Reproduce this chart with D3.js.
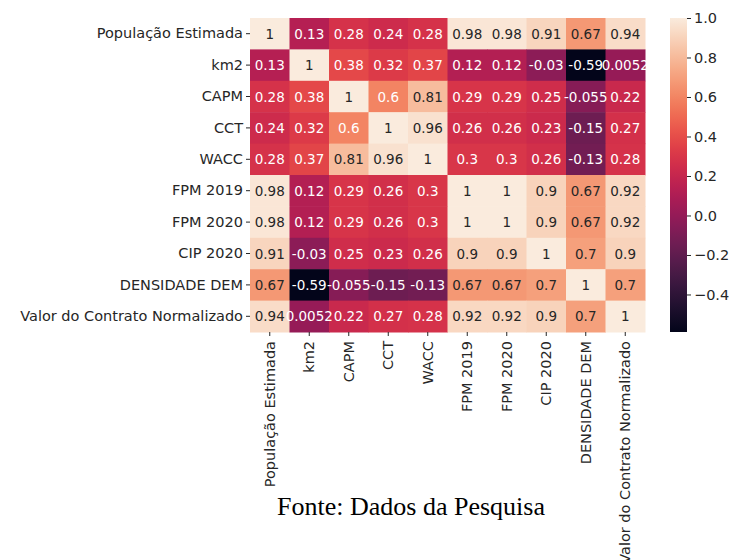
<!doctype html>
<html>
<head>
<meta charset="utf-8" />
<title>Correlação</title>
<script src="https://cdn.jsdelivr.net/npm/d3@7"></script>
<style>
  html, body { margin: 0; padding: 0; background: #fff; }
  svg { display: block; }
</style>
</head>
<body>
<script>
// variables (rows and columns share the same order)
const labels = ["População Estimada", "km2", "CAPM", "CCT", "WACC", "FPM 2019", "FPM 2020", "CIP 2020", "DENSIDADE DEM", "Valor do Contrato Normalizado"];

// correlation matrix, one array per row
const rowPop   = [1, 0.13, 0.28, 0.24, 0.28, 0.98, 0.98, 0.91, 0.67, 0.94];
const rowKm2   = [0.13, 1, 0.38, 0.32, 0.37, 0.12, 0.12, -0.03, -0.59, 0.0052];
const rowCapm  = [0.28, 0.38, 1, 0.6, 0.81, 0.29, 0.29, 0.25, -0.055, 0.22];
const rowCct   = [0.24, 0.32, 0.6, 1, 0.96, 0.26, 0.26, 0.23, -0.15, 0.27];
const rowWacc  = [0.28, 0.37, 0.81, 0.96, 1, 0.3, 0.3, 0.26, -0.13, 0.28];
const rowFpm19 = [0.98, 0.12, 0.29, 0.26, 0.3, 1, 1, 0.9, 0.67, 0.92];
const rowFpm20 = [0.98, 0.12, 0.29, 0.26, 0.3, 1, 1, 0.9, 0.67, 0.92];
const rowCip   = [0.91, -0.03, 0.25, 0.23, 0.26, 0.9, 0.9, 1, 0.7, 0.9];
const rowDens  = [0.67, -0.59, -0.055, -0.15, -0.13, 0.67, 0.67, 0.7, 1, 0.7];
const rowValor = [0.94, 0.0052, 0.22, 0.27, 0.28, 0.92, 0.92, 0.9, 0.7, 1];
const matrix = [rowPop, rowKm2, rowCapm, rowCct, rowWacc, rowFpm19, rowFpm20, rowCip, rowDens, rowValor];

const cbarTicks = [1.0, 0.8, 0.6, 0.4, 0.2, 0.0, -0.2, -0.4];
const caption = "Fonte: Dados da Pesquisa";

// seaborn "rocket" colormap, approximated by stops
const rocket = ["#03051a", "#35193e", "#701f57", "#ad1759", "#e13342", "#f37651", "#f6b48f", "#faebdd"];
const interp = d3.interpolateRgbBasis(rocket);

const W = 729, H = 560;
const mLeft = 250, mRight = 645, mTop = 18, mBottom = 332;
const labelSize = 14.5, annotSize = 13.5;

const vmin = d3.min(matrix.flat()), vmax = d3.max(matrix.flat());
const color = d3.scaleSequential(interp).domain([vmin, vmax]);

const x = d3.scaleBand().domain(labels).range([mLeft, mRight]);
const y = d3.scaleBand().domain(labels).range([mTop, mBottom]);

const svg = d3.select("body").append("svg")
  .attr("width", W).attr("height", H)
  .style("font-family", "'DejaVu Sans', sans-serif");

const cells = [];
matrix.forEach((row, i) => row.forEach((v, j) => cells.push({ r: labels[i], c: labels[j], v })));

function lum(c) {
  const rgb = d3.rgb(c);
  const f = u => { u /= 255; return u <= 0.03928 ? u / 12.92 : Math.pow((u + 0.055) / 1.055, 2.4); };
  return 0.2126 * f(rgb.r) + 0.7152 * f(rgb.g) + 0.0722 * f(rgb.b);
}

svg.append("g").selectAll("rect")
  .data(cells)
  .join("rect")
  .attr("x", d => x(d.c))
  .attr("y", d => y(d.r))
  .attr("width", x.bandwidth() + 0.5)
  .attr("height", y.bandwidth() + 0.5)
  .attr("fill", d => color(d.v));

const fmt = v => {
  if (v === 1) return "1";
  return String(+v.toPrecision(2));
};

svg.append("g").selectAll("text")
  .data(cells)
  .join("text")
  .attr("x", d => x(d.c) + x.bandwidth() / 2)
  .attr("y", d => y(d.r) + y.bandwidth() / 2)
  .attr("text-anchor", "middle")
  .attr("dominant-baseline", "central")
  .attr("font-size", annotSize)
  .attr("fill", d => lum(color(d.v)) > 0.408 ? "#262626" : "#ffffff")
  .text(d => fmt(d.v));

// y axis
const yAxis = svg.append("g").attr("transform", `translate(${mLeft},0)`)
  .call(d3.axisLeft(y).tickSize(4).tickPadding(3));
yAxis.select(".domain").remove();
yAxis.selectAll("line").attr("stroke", "#262626");
yAxis.selectAll("text").attr("font-size", labelSize).attr("fill", "#262626").style("font-family", "'DejaVu Sans', sans-serif");

// x axis
const xAxis = svg.append("g").attr("transform", `translate(0,${mBottom})`)
  .call(d3.axisBottom(x).tickSize(4).tickPadding(3));
xAxis.select(".domain").remove();
xAxis.selectAll("line").attr("stroke", "#262626");
xAxis.selectAll("text")
  .attr("font-size", labelSize).attr("fill", "#262626").style("font-family", "'DejaVu Sans', sans-serif")
  .attr("transform", "rotate(-90)")
  .attr("text-anchor", "end")
  .attr("x", -9).attr("y", 0).attr("dy", "0.35em");

// colorbar
const cbX = 670, cbW = 17;
const cy = d3.scaleLinear().domain([vmin, vmax]).range([mBottom, mTop]);
const grad = svg.append("defs").append("linearGradient")
  .attr("id", "cbar").attr("x1", 0).attr("y1", 1).attr("x2", 0).attr("y2", 0);
d3.range(0, 1.0001, 0.02).forEach(t => {
  grad.append("stop").attr("offset", t).attr("stop-color", interp(t));
});
svg.append("rect")
  .attr("x", cbX).attr("y", mTop)
  .attr("width", cbW).attr("height", mBottom - mTop)
  .attr("fill", "url(#cbar)");

const cAxis = svg.append("g").attr("transform", `translate(${cbX + cbW},0)`)
  .call(d3.axisRight(cy).tickValues(cbarTicks).tickSize(4).tickPadding(3)
    .tickFormat(v => d3.format(".1f")(v).replace("-", "\u2212")));
cAxis.select(".domain").remove();
cAxis.selectAll("line").attr("stroke", "#262626");
cAxis.selectAll("text").attr("font-size", labelSize).attr("fill", "#262626").style("font-family", "'DejaVu Sans', sans-serif");

// caption
svg.append("text")
  .attr("x", 411).attr("y", 515)
  .attr("text-anchor", "middle")
  .attr("font-family", "'Liberation Serif', 'Times New Roman', serif")
  .attr("font-size", 26)
  .attr("fill", "#000")
  .text(caption);
</script>
</body>
</html>
